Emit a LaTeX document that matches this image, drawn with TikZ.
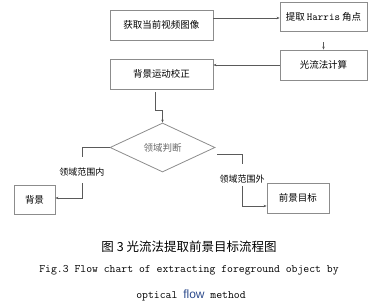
\documentclass[tikz,border=0pt]{standalone}
\usepackage{fontspec}
\setmainfont{Noto Sans CJK SC}
\setmonofont{Latin Modern Mono}
\newfontfamily\flowfont{Liberation Sans}
\usepackage{xcolor}
\usetikzlibrary{shapes.geometric, arrows.meta, positioning}
\definecolor{boxgray}{RGB}{140, 140, 140}
\definecolor{linegray}{RGB}{90, 90, 90}
\definecolor{flowblue}{RGB}{45, 75, 140}

\begin{document}
\begin{tikzpicture}[
    x=1pt, y=-1pt,
    stepbox/.style={rectangle, draw=boxgray, line width=0.8pt, minimum height=30pt, align=center, font=\fontsize{9.5}{10}\selectfont, inner sep=2pt},
    judgebox/.style={diamond, draw=boxgray, line width=0.8pt, minimum width=105pt, minimum height=49pt, inner sep=0pt, text=black!60, font=\fontsize{9.5}{10}\selectfont},
    branch/.style={font=\fontsize{9}{10}\selectfont, inner sep=1pt},
    arrow/.style={-{Stealth[length=3pt, width=2.5pt]}, line width=0.7pt, linegray},
    line/.style={line width=0.7pt, linegray}
]
\useasboundingbox (0,0) rectangle (384,304);

% Boxes
\node[stepbox, minimum width=103pt] (getimg) at (161.5,25) {获取当前视频图像};
\node[stepbox, minimum width=87pt, minimum height=29pt] (harris) at (323.5,16.5) {提取 {\ttfamily\fontsize{10.5}{10}\selectfont Harris} 角点};
\node[stepbox, minimum width=87pt] (flowcalc) at (323.5,65) {光流法计算};
\node[stepbox, minimum width=103pt] (correct) at (161.5,74) {背景运动校正};

% Decision
\node[judgebox] (judge) at (162.5,147.5) {领域判断};
\node[branch] (inlabel) at (82,172) {领域范围内};
\node[branch] (outlabel) at (242,179) {领域范围外};

% Results
\node[stepbox, minimum width=41pt, minimum height=29pt] (bg) at (34.5,199.5) {背景};
\node[stepbox, minimum width=62pt] (fg) at (298,198) {前景目标};

% Connections
\draw[arrow] ([yshift=7pt]getimg.east) -- ([yshift=-1.5pt]harris.west);
\draw[arrow] ([yshift=-11pt]harris.south) -- (flowcalc.north);
\draw[arrow] (flowcalc.west) -- (correct.east |- flowcalc.west);
\draw[arrow] ([xshift=-6.5pt, yshift=-3pt]correct.south) -- ++(0,18) -| (judge.north);
\draw[line] (judge.west) -| ([yshift=10pt]inlabel.north);
\draw[arrow] ([yshift=-6pt]inlabel.south) |- ([yshift=1.5pt]bg.east);
\draw[line] ([xshift=2pt, yshift=-6.5pt]judge.east) -| ([yshift=10pt]outlabel.north);
\draw[arrow] ([yshift=-2pt]outlabel.south) |- ([yshift=-8pt]fg.west);

% Caption
\node[font=\fontsize{12.5}{14}\selectfont] (capcn) at (189,247) {图\ 3\ 光流法提取前景目标流程图};
\node[font=\ttfamily\fontsize{11.4}{12}\selectfont] (capen) at (189,270) {Fig.3 Flow chart of extracting foreground object by};
\node[font=\ttfamily\fontsize{11.4}{12}\selectfont] (capen2) at (191,295) {optical {\flowfont\fontsize{12}{12}\selectfont\color{flowblue}flow} method};
\end{tikzpicture}
\end{document}
